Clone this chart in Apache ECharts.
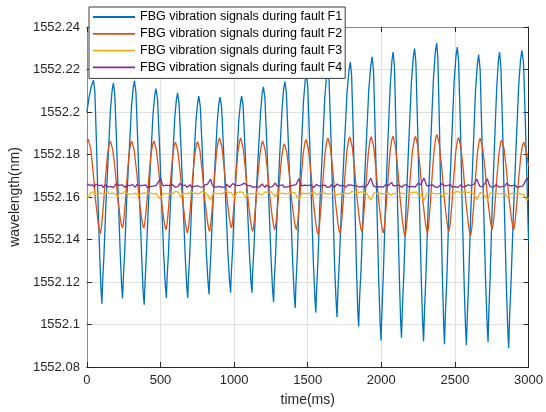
<!DOCTYPE html>
<html><head><meta charset="utf-8">
<script src="https://cdn.jsdelivr.net/npm/echarts@6/dist/echarts.min.js"></script>
<style>html,body{margin:0;padding:0;background:#fff}#c{width:546px;height:412px}</style>
</head><body><div id="c"></div>
<script>
const seriesNames = ['FBG vibration signals during fault F1','FBG vibration signals during fault F2','FBG vibration signals during fault F3','FBG vibration signals during fault F4'];
const seriesColors = ['#0072BD','#D95319','#EDB120','#7E2F8E'];
const xTicks = [0,500,1000,1500,2000,2500,3000];
const yTicks = [1552.08,1552.1,1552.12,1552.14,1552.16,1552.18,1552.2,1552.22,1552.24];

const f1Time = [0,15,30,45,
54,65,76,88,96,102,107,116,129,145,160,172,
180,189,202,214,227,236,242,248,257,270,287,303,315,
323,333,346,359,373,382,389,395,403,417,433,449,461,
469,480,494,508,522,533,540,545,554,567,582,597,608,
616,626,640,654,668,678,685,690,699,711,726,741,753,
760,770,784,798,812,823,830,835,843,856,871,886,897,
904,915,929,944,958,969,976,981,990,1002,1017,1032,1044,
1051,1061,1075,1090,1104,1114,1121,1126,1135,1148,1164,1180,1191,
1199,1209,1223,1237,1251,1261,1268,1273,1282,1295,1310,1326,1337,
1345,1355,1369,1384,1398,1408,1415,1420,1429,1441,1456,1471,1483,
1490,1500,1513,1526,1539,1549,1555,1561,1570,1583,1600,1616,1628,
1636,1645,1658,1671,1683,1693,1699,1705,1715,1731,1749,1767,1781,
1790,1798,1810,1821,1832,1840,1846,1852,1863,1878,1897,1915,1929,
1938,1947,1959,1971,1983,1992,1998,2004,2013,2027,2043,2060,2072,
2080,2089,2100,2111,2123,2131,2137,2143,2153,2168,2186,2204,2217,
2226,2235,2247,2260,2272,2281,2287,2293,2303,2318,2336,2354,2367,
2376,2384,2395,2405,2416,2424,2429,2435,2445,2459,2477,2494,2507,
2516,2525,2538,2550,2563,2572,2578,2584,2593,2607,2624,2640,2653,
2661,2671,2683,2696,2709,2719,2725,2730,2739,2752,2768,2784,2795,
2803,2812,2825,2837,2850,2859,2865,2871,2881,2897,2915,2933,2946,
2955,2966,2978,2990,3000];
const f1Value = [1552.2000,1552.2070,1552.2120,1552.2150,
1552.2097,1552.1855,1552.1571,1552.1308,1552.1161,1552.1098,1552.1202,1552.1326,1552.1565,1552.1793,1552.2011,1552.2105,
1552.2136,1552.2085,1552.1852,1552.1578,1552.1325,1552.1183,1552.1122,1552.1225,1552.1348,1552.1583,1552.1809,1552.2024,1552.2116,
1552.2147,1552.2094,1552.1852,1552.1567,1552.1304,1552.1156,1552.1093,1552.1195,1552.1317,1552.1551,1552.1774,1552.1988,1552.2079,
1552.2110,1552.2061,1552.1834,1552.1568,1552.1322,1552.1184,1552.1125,1552.1221,1552.1337,1552.1559,1552.1771,1552.1973,1552.2060,
1552.2089,1552.2041,1552.1819,1552.1559,1552.1318,1552.1183,1552.1125,1552.1220,1552.1334,1552.1553,1552.1762,1552.1961,1552.2047,
1552.2075,1552.2028,1552.1814,1552.1562,1552.1329,1552.1198,1552.1142,1552.1235,1552.1346,1552.1560,1552.1764,1552.1959,1552.2042,
1552.2070,1552.2024,1552.1812,1552.1564,1552.1334,1552.1205,1552.1150,1552.1243,1552.1354,1552.1566,1552.1770,1552.1964,1552.2047,
1552.2075,1552.2029,1552.1816,1552.1566,1552.1335,1552.1206,1552.1150,1552.1247,1552.1363,1552.1586,1552.1799,1552.2002,1552.2089,
1552.2118,1552.2067,1552.1835,1552.1561,1552.1308,1552.1167,1552.1106,1552.1210,1552.1334,1552.1573,1552.1801,1552.2019,1552.2112,
1552.2143,1552.2090,1552.1845,1552.1557,1552.1291,1552.1142,1552.1078,1552.1188,1552.1320,1552.1574,1552.1816,1552.2048,1552.2147,
1552.2180,1552.2124,1552.1865,1552.1562,1552.1281,1552.1123,1552.1056,1552.1171,1552.1309,1552.1573,1552.1826,1552.2067,1552.2171,
1552.2205,1552.2147,1552.1877,1552.1562,1552.1269,1552.1105,1552.1035,1552.1155,1552.1299,1552.1575,1552.1839,1552.2091,1552.2199,
1552.2235,1552.2173,1552.1887,1552.1551,1552.1240,1552.1066,1552.0991,1552.1118,1552.1270,1552.1562,1552.1841,1552.2108,1552.2222,
1552.2260,1552.2193,1552.1886,1552.1526,1552.1192,1552.1005,1552.0925,1552.1061,1552.1224,1552.1536,1552.1834,1552.2119,1552.2241,
1552.2282,1552.2215,1552.1906,1552.1543,1552.1207,1552.1019,1552.0938,1552.1074,1552.1237,1552.1550,1552.1849,1552.2135,1552.2257,
1552.2298,1552.2229,1552.1912,1552.1541,1552.1196,1552.1004,1552.0921,1552.1061,1552.1230,1552.1553,1552.1862,1552.2157,1552.2283,
1552.2325,1552.2254,1552.1928,1552.1545,1552.1191,1552.0992,1552.0907,1552.1047,1552.1215,1552.1536,1552.1844,1552.2137,1552.2263,
1552.2305,1552.2235,1552.1912,1552.1533,1552.1183,1552.0986,1552.0902,1552.1039,1552.1203,1552.1518,1552.1819,1552.2106,1552.2229,
1552.2270,1552.2202,1552.1891,1552.1526,1552.1188,1552.0999,1552.0918,1552.1054,1552.1218,1552.1532,1552.1832,1552.2118,1552.2241,
1552.2282,1552.2212,1552.1892,1552.1516,1552.1168,1552.0973,1552.0889,1552.1029,1552.1197,1552.1519,1552.1828,1552.2122,1552.2248,
1552.2290,1552.2230,1552.1960,1552.1660,1552.1390];

const f2Time = [0,10,26,43,59,76,85,92,100,112,126,140,152,
160,176,193,209,226,235,242,250,261,274,286,297,
305,321,338,354,371,380,387,395,408,422,435,448,
456,472,489,505,522,531,538,546,557,570,583,594,
602,618,635,651,668,677,684,692,704,718,732,744,
752,768,785,801,818,827,834,842,854,868,881,893,
901,917,934,950,967,976,983,990,1002,1014,1026,1038,
1045,1061,1078,1094,1111,1120,1127,1135,1147,1161,1175,1187,
1195,1211,1228,1244,1261,1270,1277,1285,1297,1310,1323,1334,
1342,1358,1375,1391,1408,1417,1424,1432,1444,1457,1470,1481,
1489,1505,1522,1538,1555,1564,1571,1579,1591,1605,1618,1630,
1638,1654,1671,1687,1704,1713,1720,1728,1740,1753,1766,1778,
1786,1802,1819,1835,1852,1861,1868,1876,1887,1900,1913,1924,
1932,1948,1965,1981,1998,2007,2014,2022,2034,2047,2060,2072,
2080,2096,2113,2129,2146,2155,2162,2170,2183,2197,2211,2224,
2232,2248,2265,2281,2298,2307,2314,2322,2333,2346,2359,2370,
2378,2394,2411,2427,2444,2453,2460,2468,2480,2493,2506,2517,
2525,2541,2558,2574,2591,2600,2607,2615,2627,2640,2653,2664,
2672,2688,2705,2721,2738,2747,2754,2762,2773,2786,2799,2810,
2818,2834,2851,2867,2884,2893,2900,2908,2920,2934,2948,2960,
2968,2984,3000];
const f2Value = [1552.1860,1552.1871,1552.1827,1552.1716,1552.1583,1552.1481,1552.1441,1552.1428,1552.1463,1552.1559,1552.1689,1552.1798,1552.1850,
1552.1863,1552.1822,1552.1720,1552.1597,1552.1503,1552.1466,1552.1454,1552.1487,1552.1577,1552.1699,1552.1802,1552.1851,
1552.1863,1552.1822,1552.1720,1552.1597,1552.1503,1552.1466,1552.1454,1552.1487,1552.1577,1552.1699,1552.1802,1552.1851,
1552.1863,1552.1821,1552.1717,1552.1592,1552.1496,1552.1459,1552.1446,1552.1479,1552.1570,1552.1693,1552.1796,1552.1846,
1552.1858,1552.1815,1552.1709,1552.1580,1552.1482,1552.1444,1552.1431,1552.1465,1552.1560,1552.1688,1552.1796,1552.1847,
1552.1860,1552.1818,1552.1712,1552.1586,1552.1489,1552.1451,1552.1438,1552.1473,1552.1570,1552.1702,1552.1812,1552.1865,
1552.1878,1552.1836,1552.1730,1552.1602,1552.1505,1552.1467,1552.1454,1552.1488,1552.1581,1552.1708,1552.1814,1552.1865,
1552.1878,1552.1834,1552.1724,1552.1592,1552.1491,1552.1451,1552.1438,1552.1472,1552.1566,1552.1693,1552.1799,1552.1850,
1552.1863,1552.1821,1552.1717,1552.1592,1552.1496,1552.1459,1552.1446,1552.1478,1552.1567,1552.1688,1552.1789,1552.1838,
1552.1850,1552.1810,1552.1709,1552.1587,1552.1494,1552.1458,1552.1446,1552.1480,1552.1574,1552.1701,1552.1807,1552.1858,
1552.1871,1552.1826,1552.1714,1552.1580,1552.1477,1552.1436,1552.1423,1552.1459,1552.1560,1552.1696,1552.1810,1552.1864,
1552.1878,1552.1833,1552.1721,1552.1586,1552.1482,1552.1442,1552.1428,1552.1464,1552.1565,1552.1701,1552.1815,1552.1869,
1552.1883,1552.1839,1552.1727,1552.1594,1552.1491,1552.1451,1552.1438,1552.1474,1552.1572,1552.1705,1552.1816,1552.1870,
1552.1883,1552.1838,1552.1725,1552.1589,1552.1485,1552.1445,1552.1431,1552.1467,1552.1568,1552.1704,1552.1818,1552.1872,
1552.1886,1552.1839,1552.1721,1552.1580,1552.1472,1552.1429,1552.1415,1552.1453,1552.1556,1552.1697,1552.1815,1552.1871,
1552.1885,1552.1840,1552.1726,1552.1590,1552.1485,1552.1445,1552.1431,1552.1468,1552.1570,1552.1709,1552.1825,1552.1880,
1552.1894,1552.1848,1552.1734,1552.1598,1552.1493,1552.1452,1552.1438,1552.1473,1552.1571,1552.1703,1552.1814,1552.1867,
1552.1880,1552.1834,1552.1718,1552.1580,1552.1473,1552.1432,1552.1418,1552.1455,1552.1555,1552.1693,1552.1807,1552.1862,
1552.1876,1552.1833,1552.1727,1552.1598,1552.1500,1552.1462,1552.1449,1552.1483,1552.1575,1552.1700,1552.1805,1552.1855,
1552.1868,1552.1826,1552.1720,1552.1594,1552.1497,1552.1459,1552.1446,1552.1479,1552.1570,1552.1693,1552.1796,1552.1846,
1552.1858,1552.1818,1552.1745];

// F3 and F4 sampled every 10 ms
const sampleStepMs = 10;
const f3Value = [
1552.1608,1552.1596,1552.1612,1552.1622,1552.1615,1552.1624,1552.1618,1552.1606,1552.1619,1552.1625,
1552.1617,1552.1623,1552.1614,1552.1621,1552.1626,1552.1616,1552.1622,1552.1618,1552.1625,1552.1615,
1552.1612,1552.1600,1552.1618,1552.1624,1552.1616,1552.1622,1552.1627,1552.1617,1552.1623,1552.1614,
1552.1621,1552.1615,1552.1624,1552.1618,1552.1622,1552.1609,1552.1602,1552.1616,1552.1623,1552.1619,
1552.1625,1552.1616,1552.1622,1552.1618,1552.1626,1552.1615,1552.1621,1552.1617,1552.1608,1552.1594,
1552.1588,1552.1606,1552.1618,1552.1625,1552.1615,1552.1622,1552.1617,1552.1624,1552.1614,1552.1620,
1552.1626,1552.1618,1552.1623,1552.1610,1552.1599,1552.1616,1552.1624,1552.1617,1552.1622,1552.1615,
1552.1621,1552.1627,1552.1616,1552.1622,1552.1618,1552.1625,1552.1614,1552.1620,1552.1626,1552.1617,
1552.1623,1552.1618,1552.1611,1552.1597,1552.1586,1552.1605,1552.1619,1552.1624,1552.1616,1552.1622,
1552.1617,1552.1624,1552.1615,1552.1621,1552.1626,1552.1618,1552.1623,1552.1616,1552.1622,1552.1612,
1552.1598,1552.1609,1552.1621,1552.1616,1552.1624,1552.1618,1552.1622,1552.1607,1552.1596,1552.1614,
1552.1623,1552.1617,1552.1625,1552.1615,1552.1621,1552.1618,1552.1624,1552.1616,1552.1622,1552.1610,
1552.1618,1552.1624,1552.1615,1552.1622,1552.1617,1552.1625,1552.1619,1552.1611,1552.1601,1552.1617,
1552.1624,1552.1616,1552.1622,1552.1618,1552.1626,1552.1615,1552.1621,1552.1617,1552.1623,1552.1619,
1552.1614,1552.1622,1552.1612,1552.1598,1552.1587,1552.1603,1552.1619,1552.1625,1552.1616,1552.1622,
1552.1618,1552.1624,1552.1615,1552.1621,1552.1626,1552.1617,1552.1610,1552.1602,1552.1619,1552.1624,
1552.1616,1552.1622,1552.1618,1552.1625,1552.1614,1552.1621,1552.1617,1552.1624,1552.1619,1552.1615,
1552.1609,1552.1600,1552.1617,1552.1623,1552.1616,1552.1622,1552.1618,1552.1625,1552.1615,1552.1621,
1552.1626,1552.1617,1552.1623,1552.1616,1552.1621,1552.1618,1552.1624,1552.1615,1552.1622,1552.1619,
1552.1617,1552.1608,1552.1595,1552.1585,1552.1603,1552.1620,1552.1624,1552.1616,1552.1622,1552.1618,
1552.1625,1552.1615,1552.1621,1552.1617,1552.1623,1552.1618,1552.1607,1552.1599,1552.1616,1552.1623,
1552.1617,1552.1624,1552.1616,1552.1622,1552.1618,1552.1626,1552.1615,1552.1621,1552.1617,1552.1624,
1552.1619,1552.1615,1552.1622,1552.1617,1552.1624,1552.1609,1552.1601,1552.1614,1552.1598,1552.1584,
1552.1600,1552.1618,1552.1625,1552.1616,1552.1622,1552.1618,1552.1624,1552.1615,1552.1621,1552.1617,
1552.1622,1552.1610,1552.1600,1552.1617,1552.1624,1552.1616,1552.1621,1552.1618,1552.1625,1552.1615,
1552.1620,1552.1626,1552.1617,1552.1623,1552.1616,1552.1622,1552.1618,1552.1624,1552.1615,1552.1621,
1552.1617,1552.1624,1552.1616,1552.1611,1552.1599,1552.1588,1552.1606,1552.1620,1552.1624,1552.1617,
1552.1622,1552.1600,1552.1586,1552.1604,1552.1619,1552.1625,1552.1616,1552.1622,1552.1618,1552.1624,
1552.1615,1552.1621,1552.1617,1552.1623,1552.1616,1552.1609,1552.1598,1552.1614,1552.1622,1552.1618,
1552.1624,1552.1616,1552.1622,1552.1617,1552.1625,1552.1614,1552.1620,1552.1610,1552.1596,1552.1584,
1552.1598];
const f4Value = [
1552.1662,1552.1668,1552.1655,1552.1649,1552.1657,1552.1646,1552.1661,1552.1670,1552.1654,1552.1648,
1552.1656,1552.1645,1552.1653,1552.1659,1552.1647,1552.1655,1552.1650,1552.1658,1552.1644,1552.1652,
1552.1663,1552.1671,1552.1655,1552.1648,1552.1657,1552.1650,1552.1645,1552.1656,1552.1649,1552.1654,
1552.1647,1552.1658,1552.1651,1552.1646,1552.1660,1552.1667,1552.1653,1552.1648,1552.1655,1552.1650,
1552.1657,1552.1645,1552.1653,1552.1649,1552.1658,1552.1651,1552.1646,1552.1655,1552.1662,1552.1676,
1552.1688,1552.1666,1552.1652,1552.1645,1552.1656,1552.1649,1552.1654,1552.1647,1552.1659,1552.1651,
1552.1646,1552.1655,1552.1650,1552.1663,1552.1669,1552.1654,1552.1648,1552.1656,1552.1645,1552.1652,
1552.1658,1552.1647,1552.1655,1552.1650,1552.1644,1552.1653,1552.1659,1552.1648,1552.1654,1552.1646,
1552.1656,1552.1651,1552.1661,1552.1672,1552.1684,1552.1660,1552.1649,1552.1655,1552.1646,1552.1653,
1552.1650,1552.1657,1552.1645,1552.1654,1552.1648,1552.1659,1552.1652,1552.1646,1552.1655,1552.1663,
1552.1670,1552.1656,1552.1648,1552.1654,1552.1647,1552.1657,1552.1651,1552.1665,1552.1674,1552.1655,
1552.1647,1552.1653,1552.1658,1552.1645,1552.1652,1552.1649,1552.1656,1552.1646,1552.1654,1552.1661,
1552.1652,1552.1645,1552.1656,1552.1650,1552.1647,1552.1655,1552.1649,1552.1658,1552.1666,1552.1653,
1552.1646,1552.1654,1552.1650,1552.1657,1552.1645,1552.1652,1552.1648,1552.1656,1552.1651,1552.1647,
1552.1655,1552.1649,1552.1658,1552.1670,1552.1686,1552.1668,1552.1652,1552.1645,1552.1656,1552.1650,
1552.1654,1552.1647,1552.1657,1552.1651,1552.1645,1552.1653,1552.1659,1552.1664,1552.1651,1552.1646,
1552.1655,1552.1649,1552.1656,1552.1645,1552.1652,1552.1647,1552.1658,1552.1650,1552.1646,1552.1654,
1552.1661,1552.1667,1552.1653,1552.1647,1552.1655,1552.1649,1552.1646,1552.1656,1552.1650,1552.1657,
1552.1648,1552.1654,1552.1645,1552.1652,1552.1658,1552.1647,1552.1655,1552.1650,1552.1657,1552.1646,
1552.1653,1552.1662,1552.1678,1552.1688,1552.1664,1552.1650,1552.1656,1552.1647,1552.1653,1552.1649,
1552.1656,1552.1646,1552.1652,1552.1658,1552.1649,1552.1655,1552.1662,1552.1669,1552.1653,1552.1647,
1552.1654,1552.1648,1552.1657,1552.1650,1552.1645,1552.1655,1552.1649,1552.1658,1552.1652,1552.1646,
1552.1655,1552.1650,1552.1657,1552.1647,1552.1653,1552.1664,1552.1671,1552.1658,1552.1675,1552.1690,
1552.1668,1552.1652,1552.1646,1552.1655,1552.1649,1552.1657,1552.1651,1552.1645,1552.1654,1552.1648,
1552.1656,1552.1662,1552.1668,1552.1653,1552.1647,1552.1655,1552.1650,1552.1658,1552.1646,1552.1652,
1552.1649,1552.1656,1552.1645,1552.1653,1552.1658,1552.1648,1552.1655,1552.1650,1552.1646,1552.1657,
1552.1651,1552.1654,1552.1647,1552.1660,1552.1672,1552.1684,1552.1663,1552.1650,1552.1656,1552.1648,
1552.1655,1552.1672,1552.1686,1552.1664,1552.1649,1552.1655,1552.1646,1552.1653,1552.1658,1552.1650,
1552.1647,1552.1655,1552.1649,1552.1657,1552.1652,1552.1664,1552.1669,1552.1654,1552.1646,1552.1653,
1552.1650,1552.1656,1552.1645,1552.1654,1552.1649,1552.1657,1552.1651,1552.1663,1552.1676,1552.1690,
1552.1672];

const FONT = "'Liberation Sans', Arial, Helvetica, sans-serif";
const TXT = '#262626';
const pairs = (ts, vs) => ts.map((t, i) => [t, vs[i]]);
const sampled = (vs) => vs.map((v, i) => [i * sampleStepMs, v]);

const seriesData = [pairs(f1Time, f1Value), pairs(f2Time, f2Value), sampled(f3Value), sampled(f4Value)];

const chart = echarts.init(document.getElementById('c'), null, {renderer: 'canvas'});
const yFmt = v => String(Number(Number(v).toFixed(2)));
const common = {min: xTicks[0], max: xTicks[xTicks.length - 1], interval: xTicks[1] - xTicks[0]};
const ycommon = {min: yTicks[0], max: yTicks[yTicks.length - 1], interval: 0.02, scale: true};
// thin horizontal bar legend icon (corner specks keep the 42x14 box)
const LEGEND_ICON = 'path://M0,0L0.01,0L0.01,0.01Z M42,14L41.99,14L41.99,13.99Z M0,6.1L42,6.1L42,7.9L0,7.9Z';

chart.setOption({
  animation: false,
  backgroundColor: '#fff',
  grid: {left: 84, right: 14, top: 27, bottom: 44, containLabel: false},
  legend: {
    orient: 'vertical', left: 89, top: 7,
    padding: [3, 3, 4, 4],
    itemWidth: 42, itemHeight: 14, itemGap: 2.8,
    backgroundColor: '#fff', borderColor: '#3a3a3a', borderWidth: 1,
    textStyle: {fontFamily: FONT, fontSize: 12.5, color: '#000'},
    data: seriesNames.map(n => ({name: n, icon: LEGEND_ICON}))
  },
  xAxis: [
    Object.assign({type: 'value', position: 'bottom'}, common, {
      axisLine: {show: true, onZero: false, lineStyle: {color: TXT, width: 1}},
      axisTick: {show: true, inside: true, length: 5, lineStyle: {color: TXT}},
      axisLabel: {margin: 7, color: TXT, fontFamily: FONT, fontSize: 13, formatter: v => String(v)},
      splitLine: {show: true, lineStyle: {color: '#dfdfdf', width: 1}},
      name: 'time(ms)', nameLocation: 'middle', nameGap: 26,
      nameTextStyle: {color: TXT, fontFamily: FONT, fontSize: 14}
    }),
    Object.assign({type: 'value', position: 'top'}, common, {
      axisLine: {show: true, onZero: false, lineStyle: {color: '#8a8a8a', width: 1}},
      axisTick: {show: true, inside: true, length: 5, lineStyle: {color: TXT}},
      axisLabel: {show: false}, splitLine: {show: false}
    })
  ],
  yAxis: [
    Object.assign({type: 'value', position: 'left'}, ycommon, {
      axisLine: {show: true, onZero: false, lineStyle: {color: '#8a8a8a', width: 1}},
      axisTick: {show: true, inside: true, length: 5, lineStyle: {color: TXT}},
      axisLabel: {margin: 7, color: TXT, fontFamily: FONT, fontSize: 13, formatter: yFmt},
      splitLine: {show: true, lineStyle: {color: '#dfdfdf', width: 1}},
      name: 'wavelength(nm)', nameLocation: 'middle', nameGap: 60,
      nameTextStyle: {color: TXT, fontFamily: FONT, fontSize: 14}
    }),
    Object.assign({type: 'value', position: 'right'}, ycommon, {
      axisLine: {show: true, onZero: false, lineStyle: {color: TXT, width: 1}},
      axisTick: {show: true, inside: true, length: 5, lineStyle: {color: TXT}},
      axisLabel: {show: false}, splitLine: {show: false}
    })
  ],
  series: seriesNames.map((name, i) => ({
    name: name, type: 'line', xAxisIndex: 0, yAxisIndex: 0,
    data: seriesData[i], showSymbol: false, symbol: 'none',
    sampling: null, smooth: false,
    color: seriesColors[i],
    lineStyle: {color: seriesColors[i], width: 1.3},
    emphasis: {disabled: true}
  }))
});
</script>
</body></html>
